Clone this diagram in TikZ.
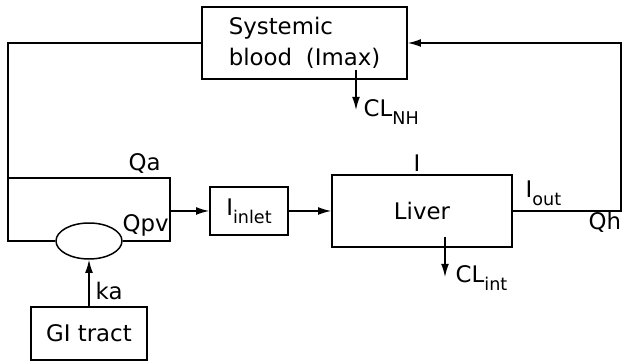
\documentclass[tikz,border=0pt]{standalone}
\usepackage{fontspec}
\setmainfont{DejaVu Sans}
\usetikzlibrary{shapes.geometric,arrows.meta}
\newcommand\lowsub[1]{\raisebox{-4.5pt}{\fontsize{10}{12}\selectfont #1}}

\begin{document}
\begin{tikzpicture}[x=0.02cm,y=-0.02cm,line width=0.85pt,
  every node/.style={font=\fontsize{13}{17.6}\selectfont},
  box/.style={draw,line width=0.9pt,inner sep=0pt},
  flow/.style={-{Latex[length=7.5pt,width=4.5pt]}},
  lbl/.style={anchor=base west,inner sep=0pt}]

\useasboundingbox (0,0) rectangle (623,364);

% Compartiments
\node[box,minimum width=4.1cm,minimum height=1.44cm,align=left] (sys) at (304.5,43)
{Systemic\\blood\hspace{0.6em}(Imax)};

\node[box,minimum width=1.56cm,minimum height=0.96cm] (inlet) at (249,211)
{I\lowsub{inlet}};

\node[box,minimum width=3.6cm,minimum height=1.44cm] (liver) at (422,211)
{Liver};

\node[box,minimum width=2.32cm,minimum height=1.06cm] (gi) at (89,333.5)
{GI tract};

\node[ellipse,draw,minimum width=1.32cm,minimum height=0.72cm,inner sep=0pt] (gut) at (89,241) {};

% Coins des conduites
\coordinate (lt) at (8,43);
\coordinate (lb) at (8,241);
\coordinate (ql) at (8,178);
\coordinate (qr) at (170,178);
\coordinate (rb) at (170,241);
\coordinate (pv) at (170,211);
\coordinate (ht) at (621,43);
\coordinate (hb) at (621,211);
\coordinate (nh) at (356,70);
\coordinate (int) at (445,237);

% Conduites
\draw (sys.west) -- (lt) -- (lb) -- (gut.west);
\draw (ql) -- (qr) -- (rb) -- (gut.east);
\draw[flow] (pv) -- (inlet.west);
\draw[flow] (inlet.east) -- (liver.west);
\draw[flow] (liver.east) -- (hb) -- (ht) -- (sys.east);
\draw[flow] (gi.north) -- (gut.south);

% Clairances
\draw[flow] (nh) -- ++(0,40);
\draw[flow] (int) -- ++(0,40);

% Etiquettes
\node[lbl] (clnh) at (363,117) {CL\lowsub{NH}};
\node[lbl] (clint) at (455,283) {CL\lowsub{int}};
\node[lbl] (qa) at (128,171) {Qa};
\node[lbl] (qpv) at (122,232) {Qpv};
\node[lbl] (ka) at (95,300) {ka};
\node[lbl] (conc) at (413,172) {I};
\node[lbl] (iout) at (525,198) {I\lowsub{out}};
\node[lbl] (qh) at (588,230) {Qh};

\end{tikzpicture}
\end{document}
